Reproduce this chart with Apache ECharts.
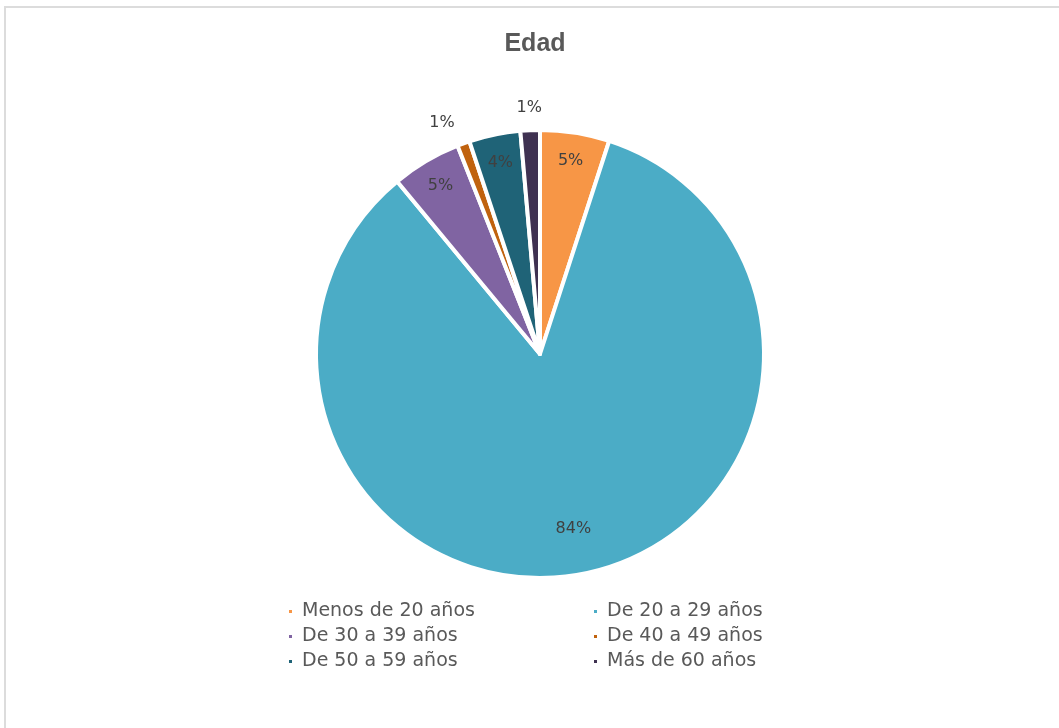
<!DOCTYPE html>
<html>
<head>
<meta charset="utf-8">
<script src="https://cdn.jsdelivr.net/npm/echarts@6/dist/echarts.min.js"></script>
<style>
  html, body { margin: 0; padding: 0; background: #fff; }
  #frame { position: absolute; left: 4px; top: 6px; width: 1060px; height: 730px;
           border-left: 2px solid #dcdcdc; border-top: 2px solid #dcdcdc; }
  #container { position: absolute; left: 0; top: 0; width: 1059px; height: 728px; }
</style>
</head>
<body>
<div id="frame"></div>
<div id="container"></div>
<script>
var ages = ['Menos de 20 años', 'De 20 a 29 años', 'De 30 a 39 años',
    'De 40 a 49 años', 'De 50 a 59 años', 'Más de 60 años'];
// porcentajes estimados de la imagen (las etiquetas se redondean)
var percents = [5.0, 84.0, 5.0, 0.9, 3.7, 1.4];
var colors = ['#F79646', '#4BACC6', '#8064A2', '#C0620E', '#1F6377', '#3F3151'];

var chart = echarts.init(document.getElementById('container'));

var center = [540, 354];
var R = 224;
var labelFont = 'DejaVu Sans';

var pieData = ages.map(function (name, i) {
    return { name: name, value: percents[i], itemStyle: { color: colors[i] } };
});

// anillos invisibles solo para colocar las etiquetas a distinto radio
function labelRing(test, pad) {
    return ages.map(function (name, i) {
        var lab = { show: test(percents[i]) };
        if (pad && pad[i]) lab.padding = pad[i];
        return { name: name, value: percents[i], label: lab };
    });
}

function ringSeries(radius, data) {
    return {
        type: 'pie',
        center: center,
        radius: radius,
        silent: true,
        legendHoverLink: false,
        itemStyle: { color: 'rgba(0,0,0,0)', borderWidth: 0 },
        label: {
            position: 'inside',
            formatter: function (p) { return Math.round(p.value) + '%'; },
            color: '#404040',
            fontSize: 16,
            fontFamily: labelFont
        },
        labelLine: { show: false },
        emphasis: { disabled: true },
        data: data
    };
}

var legendText = {
    color: '#595959', fontSize: 19, fontFamily: labelFont,
    padding: [0, 0, 0, 4]
};

option = {
    animation: false,
    title: {
        text: 'Edad',
        left: 530,
        top: 27,
        textAlign: 'center',
        textStyle: { color: '#595959', fontSize: 25, fontWeight: 'bold', fontFamily: 'Liberation Sans, Arial' }
    },
    legend: [{
        data: [ages[0], ages[2], ages[4]],
        orient: 'vertical',
        left: 282,
        top: 597,
        itemGap: 6,
        itemWidth: 5,
        itemHeight: 5,
        icon: 'rect',
        textStyle: legendText
    }, {
        data: [ages[1], ages[3], ages[5]],
        orient: 'vertical',
        left: 587,
        top: 597,
        itemGap: 6,
        itemWidth: 5,
        itemHeight: 5,
        icon: 'rect',
        textStyle: legendText
    }],
    series: [{
        name: 'Edad',
        type: 'pie',
        center: center,
        radius: R,
        startAngle: 90,
        itemStyle: { borderColor: '#fff', borderWidth: 4 },
        label: { show: false },
        labelLine: { show: false },
        data: pieData
    },
    ringSeries([R * 0.72, R], labelRing(function (v) { return v >= 2 && v < 50; })),
    ringSeries([R * 0.56, R], labelRing(function (v) { return v >= 50; })),
    ringSeries([R + 4, R + 34], labelRing(function (v) { return v < 2; },
        { 3: [0, 28, 18, 0] }))
    ]
};
chart.setOption(option);
</script>
</body>
</html>
